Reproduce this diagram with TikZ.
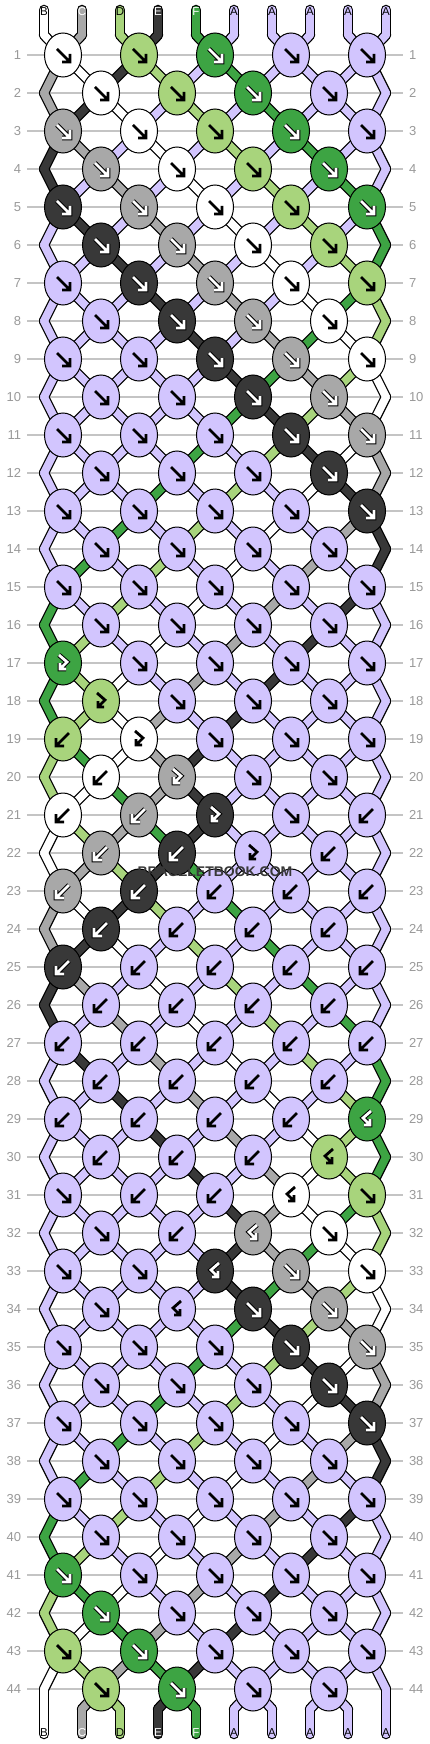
\documentclass[tikz,border=0pt]{standalone}
\usepackage{fontspec}
\setmainfont{Liberation Sans}
\usetikzlibrary{shapes.geometric}

\definecolor{colA}{HTML}{D2C5FE}
\definecolor{colB}{HTML}{FFFFFF}
\definecolor{colC}{HTML}{A8A8A8}
\definecolor{colD}{HTML}{A8D47C}
\definecolor{colE}{HTML}{383838}
\definecolor{colF}{HTML}{3DA443}
\definecolor{rowgray}{HTML}{999999}
\definecolor{linegray}{HTML}{C4C4C4}

% knot arrows: f forward, b backward, F forward-backward, B backward-forward
\def\glyphf{(-6,-6) -- (7,7) (7,-1) -- (7,7) -- (-1,7)}
\def\glyphb{(6,-6) -- (-7,7) (-7,-1) -- (-7,7) -- (1,7)}
\def\glyphF{(-4,-8) -- (4,-1) -- (-3,6) (-3,0) -- (-3,6) -- (3,6)}
\def\glyphB{(4,-8) -- (-4,-1) -- (3,6) (3,0) -- (3,6) -- (-3,6)}

% string order before row 1, then after every row
\def\strandorder{%
{B,C,D,E,F,A,A,A,A,A},{C,B,E,D,A,F,A,A,A,A},{C,E,B,A,D,A,F,A,A,A},%
{E,C,A,B,A,D,A,F,A,A},{E,A,C,A,B,A,D,A,F,A},{A,E,A,C,A,B,A,D,A,F},%
{A,A,E,A,C,A,B,A,D,F},{A,A,A,E,A,C,A,B,F,D},{A,A,A,A,E,A,C,F,B,D},%
{A,A,A,A,A,E,F,C,D,B},{A,A,A,A,A,F,E,D,C,B},{A,A,A,A,F,A,D,E,B,C},%
{A,A,A,F,A,D,A,B,E,C},{A,A,F,A,D,A,B,A,C,E},{A,F,A,D,A,B,A,C,A,E},%
{F,A,D,A,B,A,C,A,E,A},{F,D,A,B,A,C,A,E,A,A},{F,D,B,A,C,A,E,A,A,A},%
{F,D,B,C,A,E,A,A,A,A},{D,F,B,C,E,A,A,A,A,A},{D,B,F,C,E,A,A,A,A,A},%
{B,D,C,F,E,A,A,A,A,A},{B,C,D,E,F,A,A,A,A,A},{C,B,E,D,A,F,A,A,A,A},%
{C,E,B,A,D,A,F,A,A,A},{E,C,A,B,A,D,A,F,A,A},{E,A,C,A,B,A,D,A,F,A},%
{A,E,A,C,A,B,A,D,A,F},{A,A,E,A,C,A,B,A,D,F},{A,A,A,E,A,C,A,B,D,F},%
{A,A,A,A,E,A,C,B,D,F},{A,A,A,A,A,E,C,B,F,D},{A,A,A,A,A,E,C,F,B,D},%
{A,A,A,A,A,E,F,C,D,B},{A,A,A,A,A,F,E,D,C,B},{A,A,A,A,F,A,D,E,B,C},%
{A,A,A,F,A,D,A,B,E,C},{A,A,F,A,D,A,B,A,C,E},{A,F,A,D,A,B,A,C,A,E},%
{F,A,D,A,B,A,C,A,E,A},{F,D,A,B,A,C,A,E,A,A},{D,F,B,A,C,A,E,A,A,A},%
{D,B,F,C,A,E,A,A,A,A},{B,D,C,F,E,A,A,A,A,A},{B,C,D,E,F,A,A,A,A,A}}

% knot type / knot colour, row by row
\def\knotrows{%
{f/B,f/D,f/F,f/A,f/A},{f/B,f/D,f/F,f/A},%
{f/C,f/B,f/D,f/F,f/A},{f/C,f/B,f/D,f/F},%
{f/E,f/C,f/B,f/D,f/F},{f/E,f/C,f/B,f/D},%
{f/A,f/E,f/C,f/B,f/D},{f/A,f/E,f/C,f/B},%
{f/A,f/A,f/E,f/C,f/B},{f/A,f/A,f/E,f/C},%
{f/A,f/A,f/A,f/E,f/C},{f/A,f/A,f/A,f/E},%
{f/A,f/A,f/A,f/A,f/E},{f/A,f/A,f/A,f/A},%
{f/A,f/A,f/A,f/A,f/A},{f/A,f/A,f/A,f/A},%
{F/F,f/A,f/A,f/A,f/A},{F/D,f/A,f/A,f/A},%
{b/D,F/B,f/A,f/A,f/A},{b/B,F/C,f/A,f/A},%
{b/B,b/C,F/E,f/A,b/A},{b/C,b/E,F/A,b/A},%
{b/C,b/E,b/A,b/A,b/A},{b/E,b/A,b/A,b/A},%
{b/E,b/A,b/A,b/A,b/A},{b/A,b/A,b/A,b/A},%
{b/A,b/A,b/A,b/A,b/A},{b/A,b/A,b/A,b/A},%
{b/A,b/A,b/A,b/A,B/F},{b/A,b/A,b/A,B/D},%
{f/A,b/A,b/A,B/B,f/D},{f/A,b/A,B/C,f/B},%
{f/A,f/A,B/E,f/C,f/B},{f/A,B/A,f/E,f/C},%
{f/A,f/A,f/A,f/E,f/C},{f/A,f/A,f/A,f/E},%
{f/A,f/A,f/A,f/A,f/E},{f/A,f/A,f/A,f/A},%
{f/A,f/A,f/A,f/A,f/A},{f/A,f/A,f/A,f/A},%
{f/F,f/A,f/A,f/A,f/A},{f/F,f/A,f/A,f/A},%
{f/D,f/F,f/A,f/A,f/A},{f/D,f/F,f/A,f/A}}

\newcommand{\drawstrands}[1]{%
  \foreach [count=\r from 0] \row in \strandorder {%
    \pgfmathtruncatemacro\rr{\r+1}%
    \foreach [count=\i from 0] \s in \row {%
      \draw[#1=\s] (p\r-\i) -- (p\rr-\i);
      \ifnum\r=0 \draw[#1=\s] (t\i) -- (p0-\i);\fi
      \ifnum\r=44 \draw[#1=\s] (p45-\i) -- (b\i);\fi
    }%
  }%
}

\begin{document}
\begin{tikzpicture}[x=1pt, y=-1pt,
    knot/.style={draw, ellipse, line width=1pt, minimum width=37pt, minimum height=44pt, inner sep=0pt},
    strandout/.style={draw=black, line width=10.5pt, line cap=round},
    strandin/.style={draw=col#1, line width=8pt, line cap=round},
    rowline/.style={draw=linegray, line width=1.4pt},
    rownum/.style={text=rowgray, font=\fontsize{13}{13}\selectfont, inner sep=0pt, outer sep=6pt},
    lbl/.style={font=\fontsize{11.5}{11.5}\selectfont, inner sep=0pt},
    glyph/.style={line width=2.8pt, line join=miter, line cap=square},
    inkA/.style={draw=black}, inkB/.style={draw=black}, inkD/.style={draw=black},
    inkC/.style={draw=white}, inkE/.style={draw=white}, inkF/.style={draw=white},
    haloA/.style={draw=none}, haloB/.style={draw=none}, haloD/.style={draw=none},
    haloC/.style={draw=black}, haloE/.style={draw=black}, haloF/.style={draw=black},
    txtA/.style={text=black}, txtB/.style={text=black}, txtD/.style={text=black},
    txtC/.style={text=white}, txtE/.style={text=white}, txtF/.style={text=white}]

    \fill[white] (0,0) rectangle (430,1744);
    \useasboundingbox (0,0) rectangle (430,1744);

    % row numbers and guide lines
    \foreach \r in {1,...,44}{
        \node[rownum, anchor=east] (nl\r) at (27,17+38*\r) {\r};
        \node[rownum, anchor=west] (nr\r) at (403,17+38*\r) {\r};
        \draw[rowline] (nl\r) -- (nr\r);
    }

    % points the strings pass through
    \foreach \i in {0,...,9}{
        \coordinate (t\i) at (44+38*\i,10);
        \coordinate (p0-\i) at (44+38*\i,35);
        \coordinate (p45-\i) at (44+38*\i,1709);
        \coordinate (b\i) at (44+38*\i,1734);
    }
    \foreach \r in {1,...,44}{
        \foreach \i in {0,...,9}{
            \pgfmathtruncatemacro\odd{mod(\r,2)}
            \pgfmathsetmacro\px{\odd==1 ? 63+76*floor(\i/2) : (\i==0 ? 44 : (\i==9 ? 386 : 101+76*floor((\i-1)/2)))}
            \coordinate (p\r-\i) at (\px,17+38*\r);
        }
    }

    \drawstrands{strandout}
    \drawstrands{strandin}

    % string letters
    \foreach [count=\i from 0] \s in {B,C,D,E,F,A,A,A,A,A}{
        \node[lbl, txt\s] (lt\i) at (44+38*\i,12) {\s};
        \node[lbl, txt\s] (lb\i) at (44+38*\i,1733) {\s};
    }

    % knots
    \foreach [count=\r] \row in \knotrows {
        \pgfmathtruncatemacro\odd{mod(\r,2)}
        \foreach [count=\j from 0] \ktype/\kcol in \row {
            \pgfmathsetmacro\kx{\odd==1 ? 63+76*\j : 101+76*\j}
            \node[knot, fill=col\kcol] (k\r-\j) at (\kx,17+38*\r) {};
            \expandafter\let\expandafter\gl\csname glyph\ktype\endcsname
            \draw[glyph, halo\kcol, line width=4.8pt, shift={(k\r-\j)}] \gl;
            \draw[glyph, ink\kcol, shift={(k\r-\j)}] \gl;
        }
    }

    \node[text=colE, font=\bfseries\fontsize{14}{14}\selectfont, inner sep=0pt] (wm) at (215,872) {BRACELETBOOK.COM};
\end{tikzpicture}
\end{document}
